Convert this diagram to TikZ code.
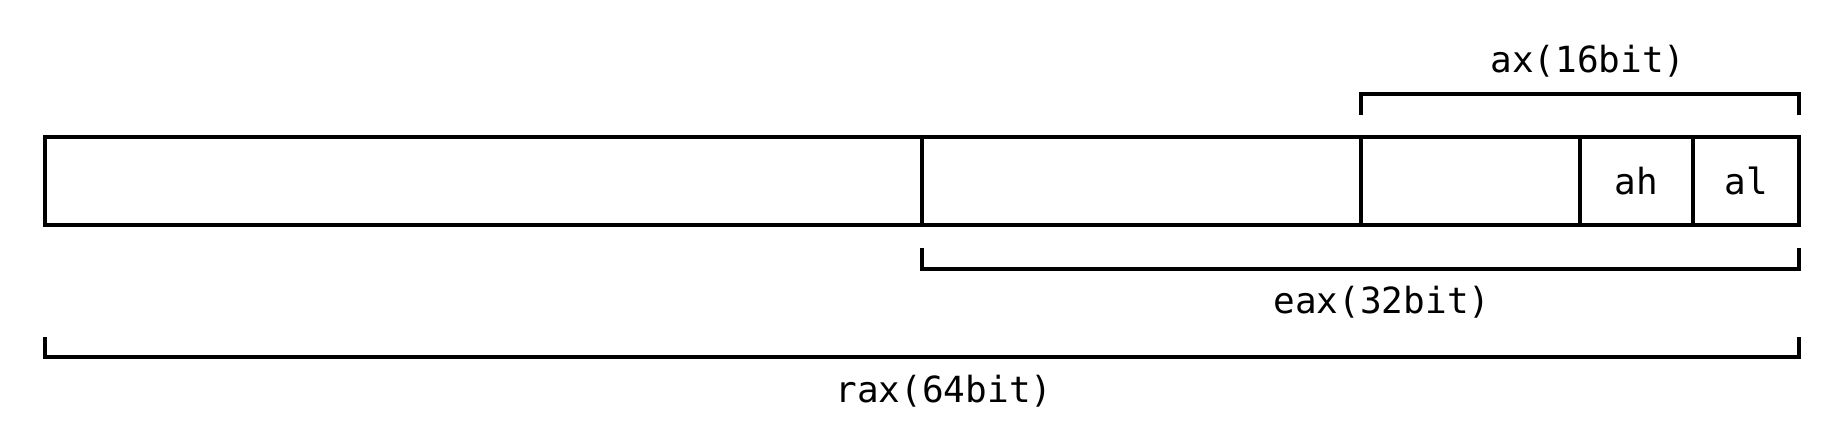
\documentclass[tikz,border=0pt]{standalone}
\usepackage{fontspec}
\setmonofont{DejaVu Sans Mono}
\usetikzlibrary{positioning}

\tikzset{
  cell/.style={draw, line width=1.8pt, inner sep=0pt, outer sep=0pt, minimum height=44pt, anchor=north west, font=\ttfamily\fontsize{18}{21}\selectfont},
  brace/.style={line width=1.8pt, line join=miter},
  lbl/.style={font=\ttfamily\fontsize{18}{21}\selectfont, inner sep=0pt}
}

\begin{document}
\begin{tikzpicture}[x=0.5pt,y=0.5pt,yscale=-1,xscale=1]
\useasboundingbox (0,0) rectangle (1844,444);

% register cells
\node [cell, minimum width=438.5pt] (upper) at (45,137) {};
\node [cell, minimum width=219.5pt] (mid) at (922,137) {};
\node [cell, minimum width=109.5pt] (low) at (1361,137) {};
\node [cell, minimum width=56.5pt] (ah) at (1580,137) {ah};
\node [cell, minimum width=53pt] (al) at (1693,137) {al};

% brackets
\coordinate (axl) at (1361,115);
\coordinate (axr) at (1799,115);
\draw [brace] (axl) -- (1361,94) -- (1799,94) -- (axr);
\coordinate (eaxl) at (922,248);
\coordinate (eaxr) at (1799,248);
\draw [brace] (eaxl) -- (922,269) -- (1799,269) -- (eaxr);
\coordinate (raxl) at (45,337);
\coordinate (raxr) at (1799,337);
\draw [brace] (raxl) -- (45,357) -- (1799,357) -- (raxr);

% labels
\node [lbl] (axlbl) at (1588,61) {ax(16bit)};
\node [lbl] (eaxlbl) at (1382,302) {eax(32bit)};
\node [lbl] (raxlbl) at (944,391) {rax(64bit)};

\end{tikzpicture}
\end{document}
